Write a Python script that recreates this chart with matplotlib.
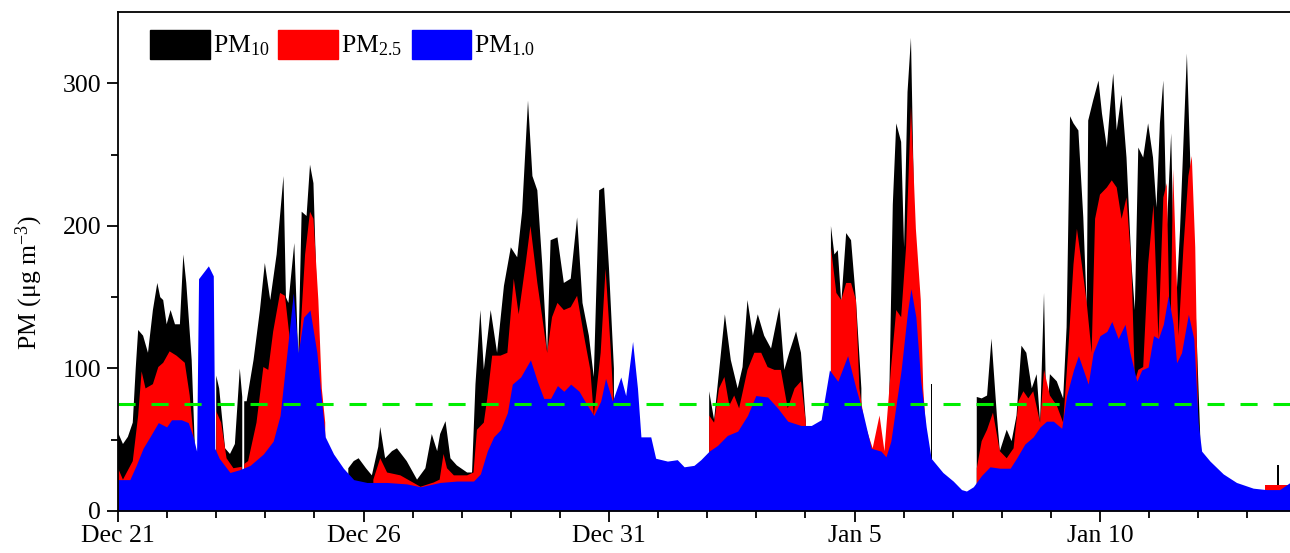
import numpy as np
import matplotlib
matplotlib.use("Agg")
import matplotlib.pyplot as plt
from matplotlib.patches import Patch

plt.rcParams['font.family'] = ['Liberation Serif', 'DejaVu Serif']
plt.rcParams['mathtext.fontset'] = 'custom'
plt.rcParams['mathtext.rm'] = 'Liberation Serif'
plt.rcParams['mathtext.default'] = 'regular'

nan = np.nan

# days since Dec 21 00:00, values in ug/m3 (nan = no data)
pm10_day = [0.0, 0.1, 0.2, 0.3, 0.36, 0.41, 0.51, 0.61, 0.71, 0.8, 0.86, 0.92, 0.99, 1.07, 1.16,
            1.26, 1.33, 1.39, 1.5, 1.56, 1.58, 1.99, 2.0, 2.06, 2.18, 2.28, 2.38, 2.48, 2.53, 2.55,
            2.57, 2.62, 2.76, 2.89, 2.99, 3.1, 3.23, 3.37, 3.42, 3.47, 3.59, 3.63, 3.67, 3.74, 3.84,
            3.91, 3.98, 4.05, 4.12, 4.15, 4.66, 4.69, 4.8, 4.9, 5.05, 5.17, 5.3, 5.34, 5.44, 5.58,
            5.68, 5.88, 6.09, 6.26, 6.39, 6.5, 6.56, 6.67, 6.77, 6.9, 7.11, 7.21, 7.28, 7.38, 7.45,
            7.59, 7.72, 7.86, 8.0, 8.13, 8.23, 8.35, 8.44, 8.54, 8.64, 8.74, 8.81, 8.95, 9.08, 9.22,
            9.35, 9.46, 9.59, 9.69, 9.8, 9.9, 10.0, 10.1, 10.12, 12.02, 12.04, 12.14, 12.28, 12.36,
            12.48, 12.62, 12.72, 12.82, 12.93, 13.03, 13.16, 13.3, 13.47, 13.57, 13.67, 13.81, 13.91,
            14.01, 14.03, 14.5, 14.52, 14.59, 14.66, 14.73, 14.83, 14.93, 15.03, 15.14, 15.16, 15.69,
            15.71, 15.78, 15.85, 15.95, 16.01, 16.08, 16.15, 16.2, 16.22, 16.55, 16.56, 16.58, 16.59,
            17.47, 17.49, 17.59, 17.7, 17.79, 17.9, 17.96, 18.1, 18.2, 18.3, 18.4, 18.5, 18.61, 18.71,
            18.78, 18.86, 18.91, 18.98, 19.12, 19.25, 19.32, 19.39, 19.46, 19.56, 19.66, 19.73, 19.76,
            19.86, 19.97, 20.04, 20.14, 20.2, 20.27, 20.34, 20.44, 20.54, 20.64, 20.71, 20.78, 20.88,
            20.98, 21.08, 21.15, 21.22, 21.29, 21.36, 21.45, 21.53, 21.63, 21.77, 21.84, 21.94, 22.04,
            22.06, 23.58, 23.6, 23.64, 23.66]
pm10 = [55, 47, 52, 62, 100, 127, 123, 111, 141, 160, 150, 148, 131, 141, 131,
        131, 180, 160, 106, 49, nan, nan, 95, 86, 44, 40, 47, 100, 80, nan,
        77, 77, 106, 141, 174, 148, 180, 235, 150, 146, 188, 150, 106, 210, 207,
        243, 230, 150, 100, nan, nan, 30, 35, 37, 30, 25, 45, 59, 37, 42,
        44, 35, 22, 30, 54, 42, 54, 63, 37, 32, 27, 27, 89, 141, 99,
        141, 111, 158, 185, 178, 210, 288, 235, 225, 173, 111, 190, 192, 160, 163,
        206, 146, 123, 94, 225, 227, 170, 100, nan, nan, 84, 64, 111, 138,
        106, 86, 101, 148, 123, 138, 123, 114, 143, 99, 111, 126, 111,
        62, nan, nan, 200, 180, 183, 146, 195, 190, 148, 86, nan, nan,
        84, 215, 272, 259, 185, 294, 332, 240, 185, nan, 89, 89, nan,
        nan, 80, 79, 81, 121, 67, 42, 57, 49, 67, 116, 111, 86, 96,
        62, 153, 62, 96, 91, 79, 129, 277, 272, 267, 206, 143, 274,
        288, 302, 279, 255, 281, 307, 267, 292, 248, 174, 141, 255, 248,
        272, 248, 213, 272, 302, 197, 265, 132, 197, 321, 244, 150, 54,
        nan, nan, 32, 32, nan]

pm25_day = [0.0, 0.1, 0.3, 0.41, 0.48, 0.56, 0.71, 0.82, 0.92, 1.05, 1.19, 1.36, 1.46, 1.56, 1.58,
            1.99, 2.0, 2.1, 2.21, 2.35, 2.52, 2.55, 2.57, 2.65, 2.82, 2.96, 3.06, 3.16, 3.3, 3.4,
            3.5, 3.67, 3.81, 3.91, 3.98, 4.08, 4.15, 4.22, 4.24, 5.18, 5.2, 5.34, 5.48, 5.75, 6.16,
            6.43, 6.55, 6.63, 6.7, 6.84, 7.11, 7.24, 7.31, 7.45, 7.52, 7.62, 7.79, 7.93, 8.06, 8.16,
            8.3, 8.4, 8.54, 8.64, 8.74, 8.84, 8.95, 9.08, 9.22, 9.35, 9.49, 9.62, 9.69, 9.83, 9.93,
            10.03, 10.1, 10.12, 12.02, 12.04, 12.14, 12.24, 12.35, 12.45, 12.55, 12.65, 12.82, 12.96,
            13.1, 13.23, 13.37, 13.5, 13.64, 13.78, 13.91, 14.01, 14.03, 14.5, 14.52, 14.63, 14.73,
            14.83, 14.93, 15.03, 15.1, 15.2, 15.37, 15.51, 15.61, 15.74, 15.85, 15.95, 16.05, 16.15,
            16.25, 16.35, 16.4, 16.46, 16.48, 17.47, 17.49, 17.59, 17.7, 17.82, 17.96, 18.1, 18.24,
            18.34, 18.44, 18.54, 18.64, 18.78, 18.86, 18.98, 19.12, 19.25, 19.35, 19.46, 19.53, 19.63,
            19.73, 19.83, 19.9, 20.0, 20.14, 20.24, 20.34, 20.44, 20.54, 20.64, 20.71, 20.78, 20.88,
            20.98, 21.09, 21.19, 21.29, 21.36, 21.43, 21.49, 21.6, 21.7, 21.8, 21.87, 21.94, 22.0,
            22.02, 23.35, 23.37, 23.9]
pm25 = [30, 22, 35, 67, 98, 86, 89, 101, 104, 112, 109, 104, 81, 44, nan,
        nan, 70, 62, 37, 30, 31, nan, 33, 35, 62, 101, 99, 126, 153, 151,
        120, 100, 180, 210, 205, 148, 86, 62, nan, nan, 22, 37, 27, 25, 17,
        20, 22, 40, 30, 25, 25, 27, 57, 62, 79, 109, 109, 111, 163, 138,
        173, 200, 160, 136, 111, 136, 146, 141, 143, 151, 123, 99, 67, 111, 170,
        116, 72, nan, nan, 67, 62, 86, 94, 74, 81, 72, 99, 111,
        111, 101, 99, 99, 72, 86, 91, 62, nan, nan, 185, 153, 148,
        160, 160, 148, 86, 62, 44, 67, 42, 99, 141, 136, 185, 284,
        198, 148, 86, 55, nan, nan, 30, 49, 57, 69, 42, 37, 44,
        77, 84, 79, 84, 62, 99, 81, 74, 62, 111, 173, 198, 173,
        146, 111, 205, 222, 227, 232, 227, 205, 220, 173, 91, 99, 101,
        173, 215, 121, 220, 230, 111, 240, 123, 185, 235, 249, 185, 62,
        nan, nan, 18, 18]

pm1_day = [0.0, 0.24, 0.37, 0.51, 0.65, 0.82, 0.99, 1.09, 1.29, 1.43, 1.53, 1.6, 1.64, 1.84, 1.94,
           1.97, 2.06, 2.28, 2.48, 2.69, 2.96, 3.16, 3.3, 3.44, 3.57, 3.67, 3.78, 3.91, 4.05, 4.12,
           4.22, 4.39, 4.59, 4.8, 5.07, 5.48, 5.88, 6.16, 6.56, 6.9, 7.24, 7.38, 7.52, 7.65, 7.79,
           7.93, 8.03, 8.2, 8.4, 8.54, 8.67, 8.81, 8.95, 9.08, 9.22, 9.39, 9.56, 9.69, 9.83, 9.93,
           10.07, 10.24, 10.34, 10.48, 10.58, 10.65, 10.85, 10.95, 11.19, 11.39, 11.53, 11.73, 11.87,
           12.04, 12.21, 12.41, 12.62, 12.82, 12.99, 13.23, 13.44, 13.64, 13.91, 14.12, 14.32, 14.49,
           14.66, 14.86, 15.03, 15.17, 15.34, 15.54, 15.64, 15.74, 15.95, 16.08, 16.15, 16.25, 16.35,
           16.46, 16.56, 16.8, 17.01, 17.18, 17.28, 17.42, 17.59, 17.76, 17.96, 18.17, 18.3, 18.47,
           18.64, 18.78, 18.91, 19.05, 19.22, 19.32, 19.46, 19.56, 19.66, 19.76, 19.86, 20.0, 20.14,
           20.24, 20.37, 20.51, 20.61, 20.75, 20.85, 20.98, 21.09, 21.19, 21.29, 21.39, 21.49, 21.56,
           21.66, 21.8, 21.91, 22.0, 22.07, 22.24, 22.51, 22.78, 23.12, 23.39, 23.66, 23.87]
pm1 = [22, 22, 32, 44, 52, 62, 59, 64, 64, 62, 52, 42, 163, 172, 165,
       44, 37, 27, 29, 32, 40, 49, 67, 111, 153, 111, 136, 141, 111, 86,
       52, 40, 30, 22, 20, 20, 19, 17, 20, 21, 21, 26, 42, 52, 57,
       69, 89, 94, 106, 91, 79, 79, 88, 84, 89, 84, 74, 67, 77, 93,
       77, 94, 81, 119, 86, 52, 52, 37, 35, 36, 31, 32, 36,
       42, 46, 53, 56, 67, 81, 80, 72, 63, 60, 60, 64, 99,
       91, 109, 86, 69, 44, 42, 38, 49, 99, 140, 156, 136, 91,
       59, 37, 27, 21, 15, 14, 17, 25, 31, 30, 30, 37, 47,
       52, 59, 63, 63, 58, 81, 99, 109, 99, 89, 111, 123, 126,
       133, 121, 131, 111, 91, 99, 101, 123, 121, 131, 151, 131, 104,
       111, 138, 121, 62, 42, 35, 26, 20, 16, 15, 15, 20]

limit = 75
tick_days = [0, 5, 10, 15, 20]
tick_labels = ['Dec 21', 'Dec 26', 'Dec 31', 'Jan 5', 'Jan 10']

fig = plt.figure(figsize=(12.9, 5.53), dpi=100)
ax = fig.add_axes([0.0915, 0.076, 0.9085, 0.902])

ax.fill_between(pm10_day, 0, pm10, color='black', lw=0)
ax.fill_between(pm25_day, 0, pm25, color='red', lw=0)
ax.fill_between(pm1_day, 0, pm1, color='blue', lw=0)
ax.axhline(limit, color='#00ee00', lw=2.2, ls=(0, (5.6, 5.2)))

ax.set_xlim(0, 23.87)
ax.set_ylim(0, 350)
ax.set_xticks(tick_days)
ax.set_xticklabels(tick_labels)
ax.set_xticks(np.arange(0, 24), minor=True)
ax.set_yticks([0, 100, 200, 300])
ax.set_yticks([50, 150, 250], minor=True)
ax.tick_params(which='both', direction='out', width=1.3, labelsize=18.5)
ax.tick_params(which='major', length=8)
ax.tick_params(which='minor', length=5)
ax.tick_params(axis='x', which='major', pad=2)
ax.tick_params(axis='y', which='major', pad=4)
for s in ['left', 'bottom', 'top']:
    ax.spines[s].set_linewidth(1.3)
ax.spines['right'].set_visible(False)

ax.set_ylabel('PM (μg m$^{-3}$)', fontsize=18.5)
ax.yaxis.set_label_coords(-0.062, 0.458)

handles = [Patch(color='black'), Patch(color='red'), Patch(color='blue')]
labels = ['PM$_{10}$', 'PM$_{2.5}$', 'PM$_{1.0}$']
ax.legend(handles, labels, loc='upper left', ncol=3, frameon=False, fontsize=18.5,
          handlelength=2.33, handleheight=1.38, handletextpad=0.12, columnspacing=0.35,
          bbox_to_anchor=(0.027, 0.965), borderaxespad=0, borderpad=0)

fig.savefig('out.png', dpi=100)
